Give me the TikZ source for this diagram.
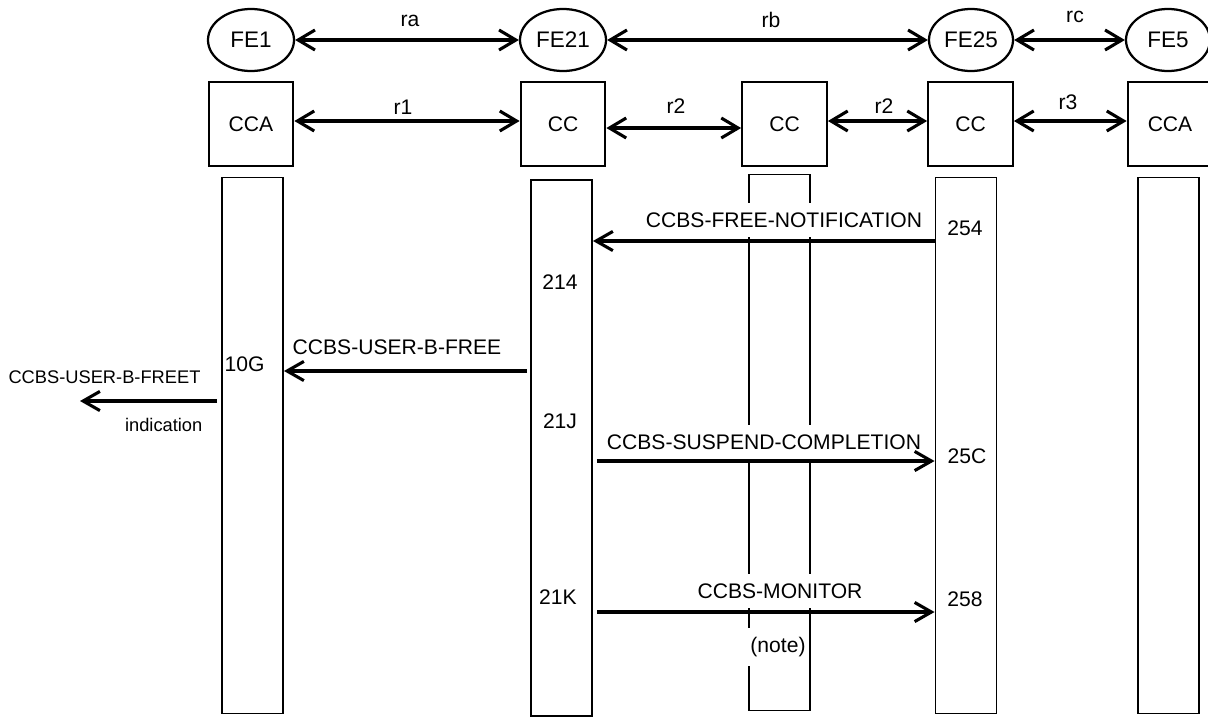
\documentclass[tikz,border=0pt]{standalone}
\usepackage{fontspec}
\setmainfont{Liberation Sans}
\usetikzlibrary{arrows.meta,positioning,shapes.geometric}
\tikzset{
  fe/.style={shape=ellipse,draw,line width=1.6pt,inner xsep=0pt,inner ysep=0.34cm,
    minimum width=2.15cm,minimum height=1.55cm,font=\fontsize{16}{19}\selectfont},
  head/.style={draw,line width=1.4pt,minimum width=2.12cm,minimum height=2.1cm,
    inner sep=0pt,font=\fontsize{15}{18}\selectfont},
  life/.style={draw,line width=1.2pt,minimum width=1.53cm,minimum height=13.4cm,inner sep=0pt},
  link/.style={{Straight Barb[length=4.2mm,width=5mm]}-{Straight Barb[length=4.2mm,width=5mm]},
    line width=2.2pt},
  flow/.style={-{Straight Barb[length=4.2mm,width=4.8mm]},line width=2.2pt},
  txt/.style={font=\fontsize{15}{18}\selectfont,inner sep=1pt},
  msg/.style={fill=white,font=\fontsize{15}{18}\selectfont,inner xsep=2pt,inner ysep=6.5pt},
  small/.style={font=\fontsize{13}{16}\selectfont,inner sep=1pt}
}

\begin{document}
\begin{tikzpicture}[x=0.025cm,y=-0.025cm]
  \clip (0,0) rectangle (1208,717);
  % functional entities
  \node[fe] (fe1) at (251,40) {FE1};
  \node[fe] (fe21) at (563,40) {FE21};
  \node[fe, minimum width=2.1cm] (fe25) at (971,40) {FE25};
  \node[fe, minimum width=2.1cm] (fe5) at (1168,40) {FE5};
  \draw[link] (fe1) -- (fe21);
  \draw[link] (fe21) -- (fe25);
  \draw[link] (fe25) -- (fe5);
  \node[txt] (ra) at (410,21) {ra};
  \node[txt] (rb) at (771,20) {rb};
  \node[txt] (rc) at (1075,17) {rc};
  % control entities
  \node[head] (cca1) at (251,124) {CCA};
  \node[head] (cc21) at (563,124) {CC};
  \node[head] (ccm) at (784.5,124) {CC};
  \node[head] (cc25) at (970.5,124) {CC};
  \node[head] (cca5) at (1170,124) {CCA};
  \draw[link] ([yshift=0.075cm]cca1.east) -- ([yshift=0.075cm]cc21.west);
  \draw[link] ([yshift=-0.1cm]cc21.east) -- ([yshift=-0.1cm]ccm.west);
  \draw[link] ([yshift=0.075cm]ccm.east) -- ([yshift=0.075cm]cc25.west);
  \draw[link] ([yshift=0.075cm]cc25.east) -- ([yshift=0.075cm]cca5.west);
  \node[txt] (r1) at (403,107) {r1};
  \node[txt] (r2a) at (676,106) {r2};
  \node[txt] (r2b) at (884,106) {r2};
  \node[txt] (r3) at (1068,102) {r3};
  % life lines
  \node[life] (l1) at (252.5,445.5) {};
  \node[life] (l21) at (561.5,448) {};
  \node[life] (lm) at (779.5,442.5) {};
  \node[life] (l25) at (966,445.5) {};
  \node[life] (l5) at (1168.5,445.5) {};
  % message rows
  \coordinate (m1) at (0,241);
  \coordinate (m2) at (0,371);
  \coordinate (m3) at (0,401);
  \coordinate (m4) at (0,461);
  \coordinate (m5) at (0,612);
  \coordinate (ind) at (80,401);
  \node[msg] (freenote) at (784,220) {CCBS-FREE-NOTIFICATION};
  \node[msg] (userfree) at (397,347) {CCBS-USER-B-FREE};
  \node[small] (userfreet) at (104.5,377) {CCBS-USER-B-FREET};
  \node[small, anchor=east] (indic) at (204,425) {indication};
  \node[msg] (suspend) at (764,442) {CCBS-SUSPEND-COMPLETION};
  \node[msg] (monitor) at (780,591) {CCBS-MONITOR};
  \node[msg] (note) at (778,647) {(note)};
  \draw[flow] (l25.west |- m1) -- (l21.east |- m1);
  \draw[flow] ([xshift=-0.075cm]l21.west |- m2) -- (l1.east |- m2);
  \draw[flow] ([xshift=-0.1cm]l1.west |- m3) -- (ind);
  \draw[flow] ([xshift=0.1cm]l21.east |- m4) -- (l25.west |- m4);
  \draw[flow] ([xshift=0.1cm]l21.east |- m5) -- (l25.west |- m5);
  % states
  \node[txt, anchor=west] (s10g) at (223,364) {10G};
  \node[txt] (s214) at (560,282) {214};
  \node[txt] (s21j) at (560,421) {21J};
  \node[txt] (s21k) at (558,597) {21K};
  \node[txt] (s254) at (965,228) {254};
  \node[txt] (s25c) at (967,456) {25C};
  \node[txt] (s258) at (965,599) {258};
\end{tikzpicture}
\end{document}
